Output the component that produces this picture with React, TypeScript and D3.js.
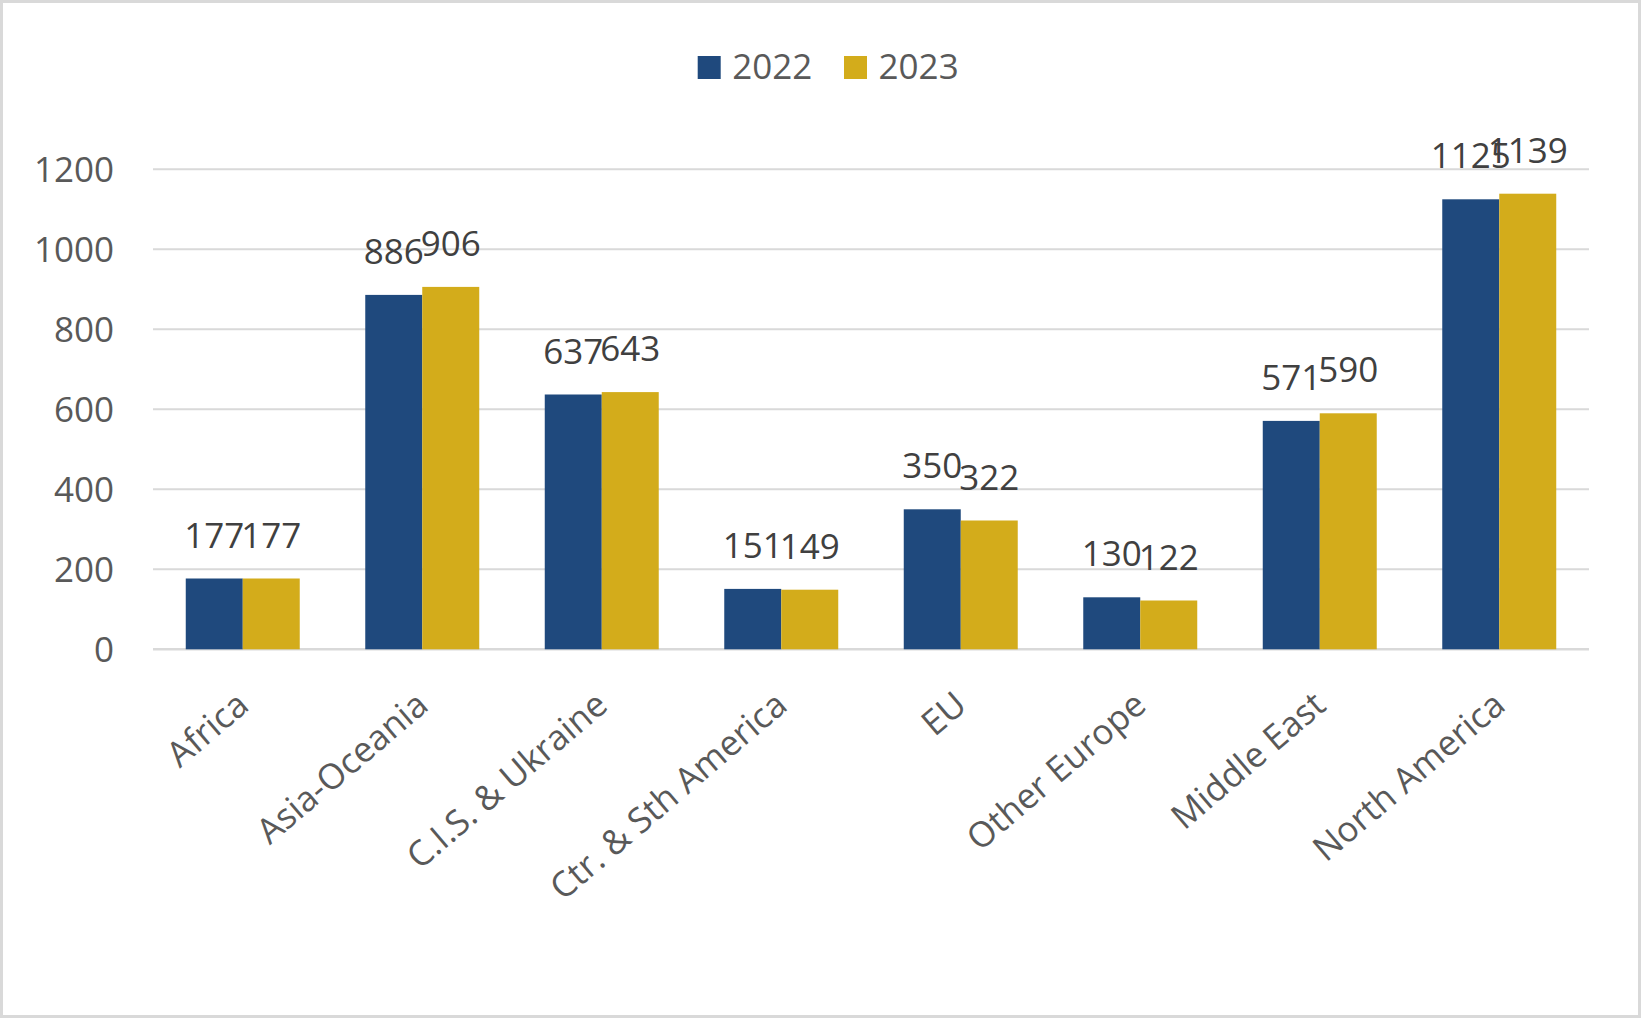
import React from "react";
import * as d3 from "d3";

const categories = [
  "Africa",
  "Asia-Oceania",
  "C.I.S. & Ukraine",
  "Ctr. & Sth America",
  "EU",
  "Other Europe",
  "Middle East",
  "North America",
];
const seriesNames = ["2022", "2023"];
const values2022 = [177, 886, 637, 151, 350, 130, 571, 1125];
const values2023 = [177, 906, 643, 149, 322, 122, 590, 1139];
const yTicks = [0, 200, 400, 600, 800, 1000, 1200];
const colors = ["#1F497D", "#D3AC1B"];

const W = 1641;
const H = 1018;
const plotLeft = 153;
const plotRight = 1589;
const plotTop = 169.3;
const plotBottom = 649.3;
const FONT = "'Open Sans', 'Noto Sans', sans-serif";

export default function App() {
  const x = d3
    .scaleBand<string>()
    .domain(categories)
    .range([plotLeft, plotRight])
    .paddingInner(0.365)
    .paddingOuter(0.1825);
  const xs = d3
    .scaleBand<string>()
    .domain(seriesNames)
    .range([0, x.bandwidth()])
    .padding(0);
  const y = d3.scaleLinear().domain([0, 1200]).range([plotBottom, plotTop]);
  const series = [values2022, values2023];

  const legendX = 697.7;
  const legendGap = 146.3;

  return (
    <svg
      width={W}
      height={H}
      style={{ position: "absolute", left: 0, top: 0, background: "#fff" }}
      fontFamily={FONT}
    >
      <rect x={0} y={0} width={W} height={H} fill="#fff" />
      <rect
        x={1.5}
        y={1.5}
        width={W - 3}
        height={H - 3}
        fill="none"
        stroke="#D9D9D9"
        strokeWidth={3}
      />
      {/* gridlines */}
      {yTicks.map((t) => (
        <line
          key={t}
          x1={plotLeft}
          x2={plotRight}
          y1={y(t)}
          y2={y(t)}
          stroke="#D9D9D9"
          strokeWidth={t === 0 ? 2.5 : 2}
        />
      ))}
      {/* y labels */}
      {yTicks.map((t) => (
        <text
          key={"yl" + t}
          x={114}
          y={y(t) + 13}
          textAnchor="end"
          fontSize={35}
          fill="#595959"
        >
          {t}
        </text>
      ))}
      {/* bars */}
      {categories.map((c, i) => (
        <g key={c}>
          {seriesNames.map((s, j) => {
            const v = series[j][i];
            const bx = (x(c) as number) + (xs(s) as number);
            return (
              <rect
                key={s}
                x={bx}
                y={y(v)}
                width={xs.bandwidth()}
                height={y(0) - y(v)}
                fill={colors[j]}
              />
            );
          })}
        </g>
      ))}
      {/* data labels */}
      {categories.map((c, i) => (
        <g key={"dl" + c}>
          {seriesNames.map((s, j) => {
            const v = series[j][i];
            const cx = (x(c) as number) + (xs(s) as number) + xs.bandwidth() / 2;
            return (
              <text
                key={s}
                x={cx}
                y={y(v) - 31}
                textAnchor="middle"
                fontSize={35}
                fill="#404040"
              >
                {v}
              </text>
            );
          })}
        </g>
      ))}
      {/* category labels */}
      {categories.map((c) => {
        const cx = (x(c) as number) + x.bandwidth() / 2;
        return (
          <text
            key={"cl" + c}
            transform={`translate(${cx + 8},${plotBottom + 59}) rotate(-40.5)`}
            textAnchor="end"
            fontSize={35}
            fill="#595959"
          >
            {c}
          </text>
        );
      })}
      {/* legend */}
      {seriesNames.map((s, j) => (
        <g key={"lg" + s} transform={`translate(${legendX + j * legendGap},56)`}>
          <rect x={0} y={0} width={23} height={23} fill={colors[j]} />
          <text x={34.6} y={23.3} fontSize={35} fill="#595959">
            {s}
          </text>
        </g>
      ))}
    </svg>
  );
}
